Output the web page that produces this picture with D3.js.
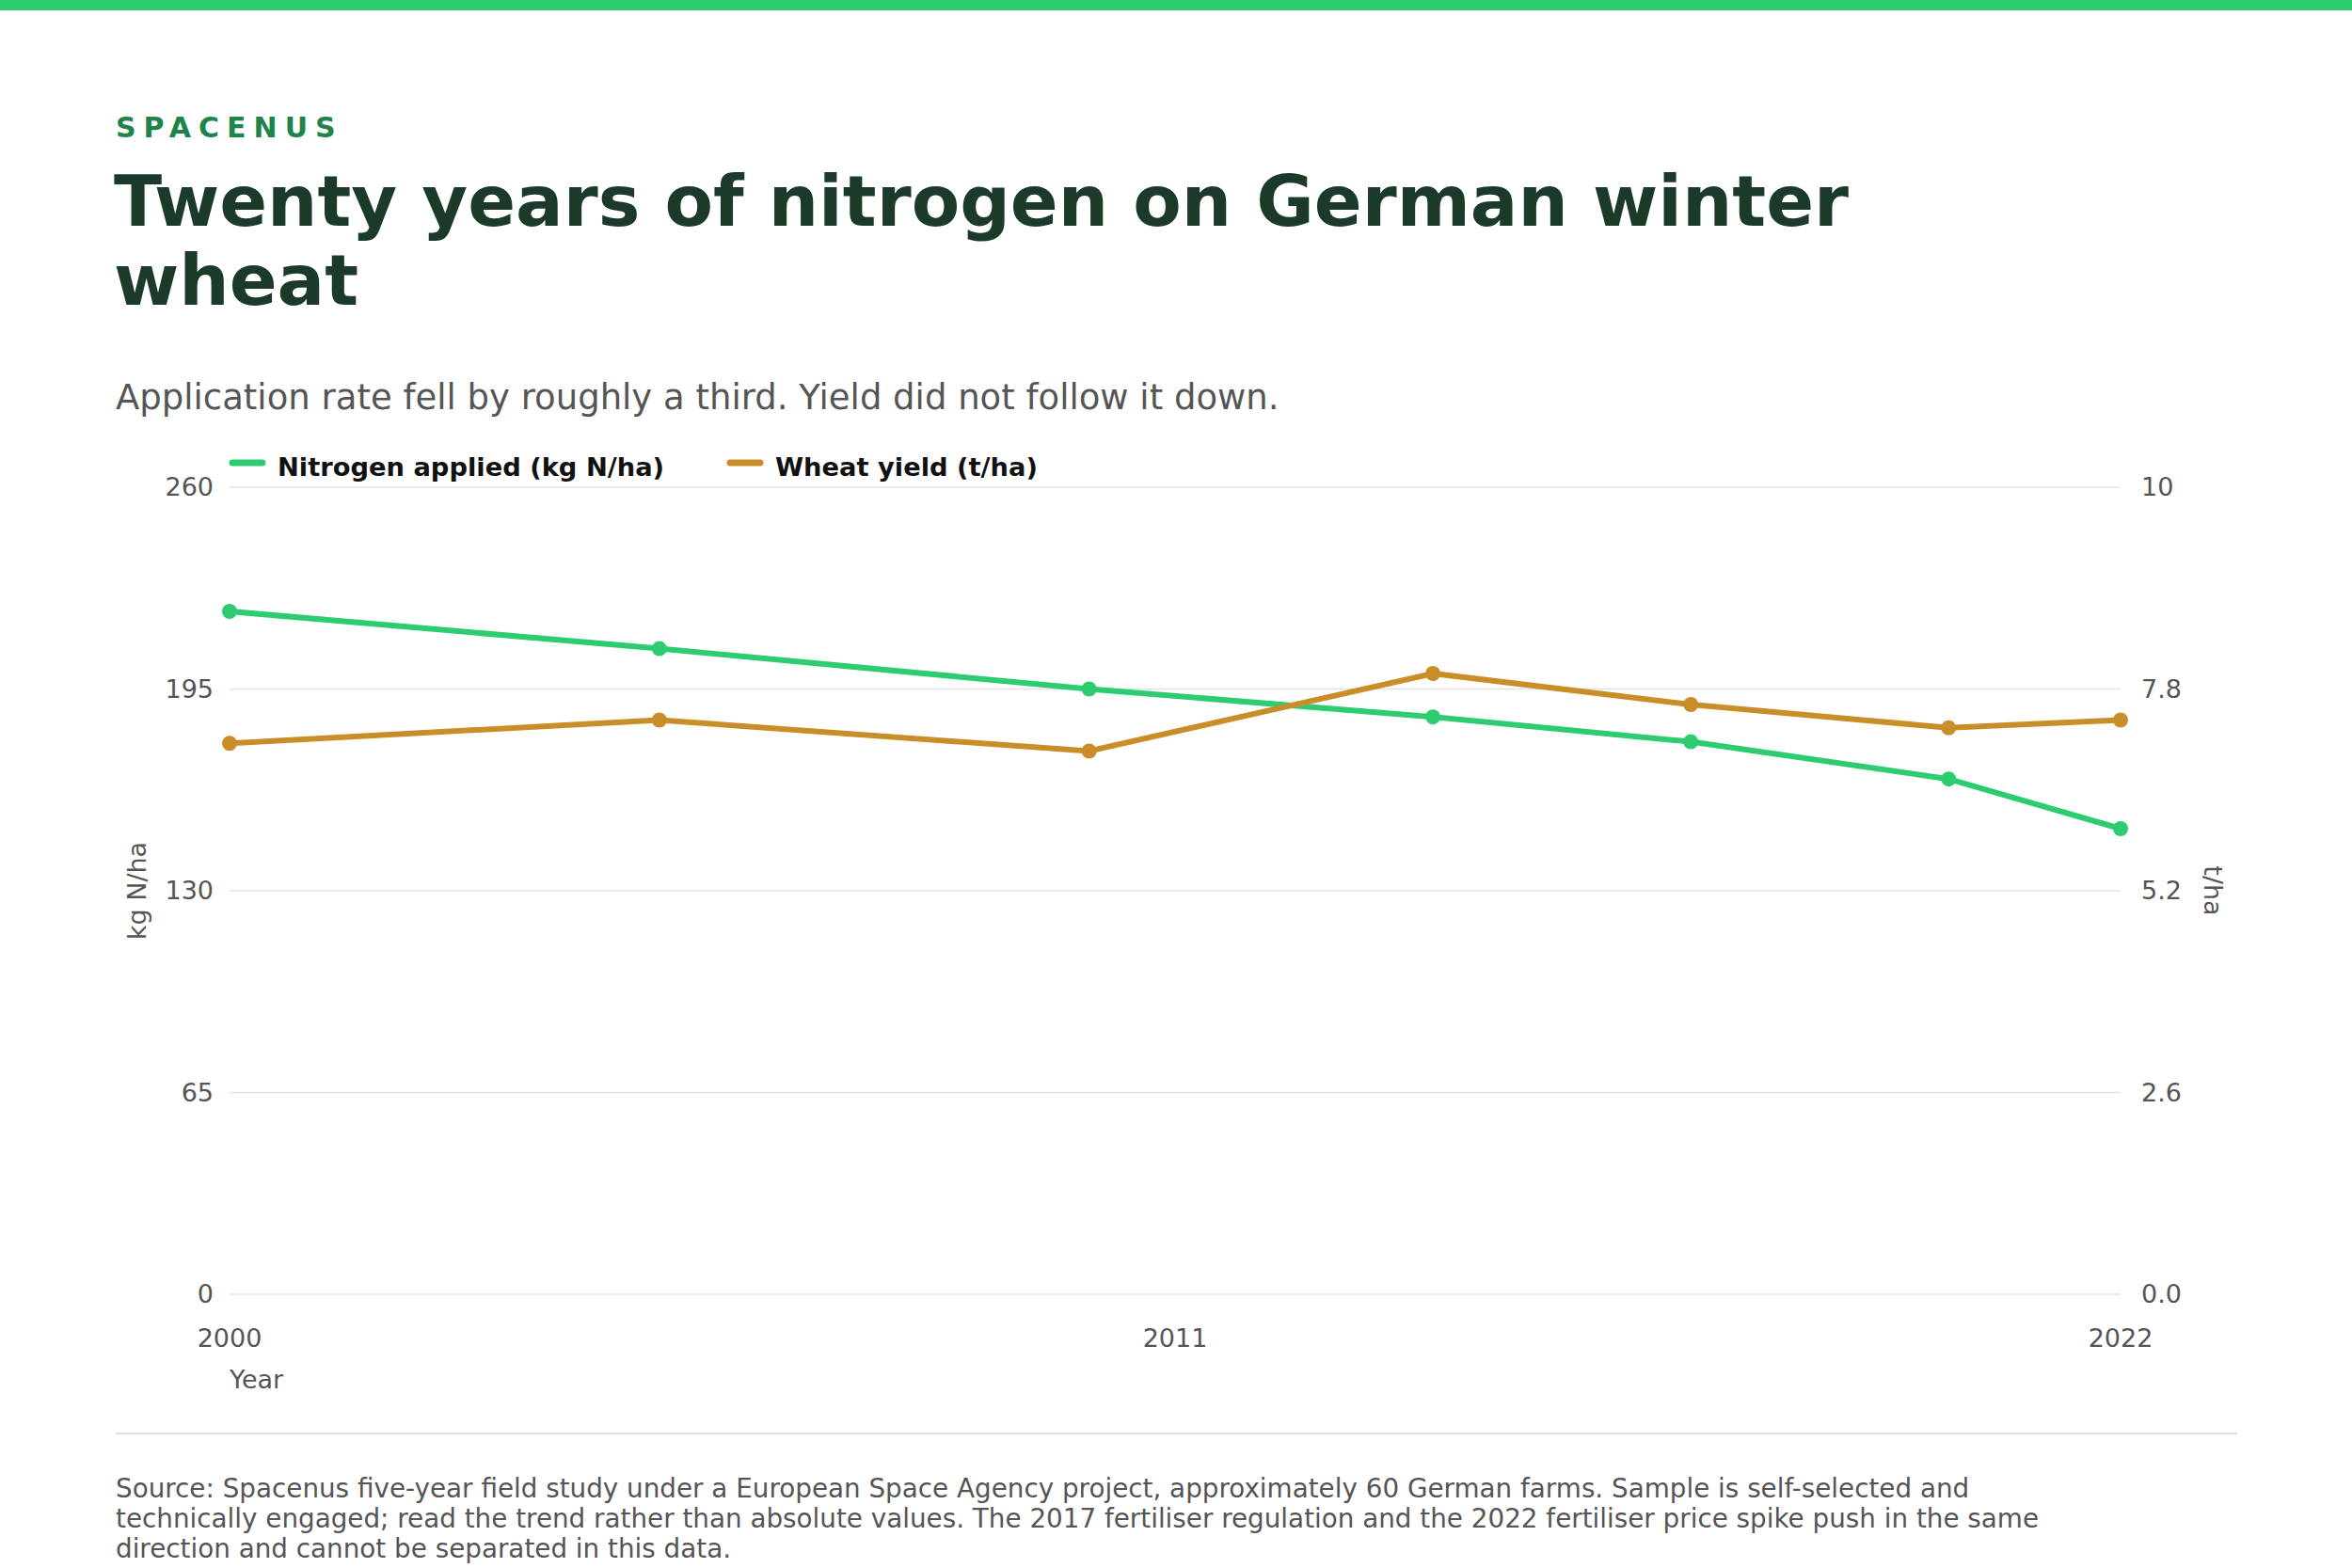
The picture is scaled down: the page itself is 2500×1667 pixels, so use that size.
<!DOCTYPE html>
<html><head><meta charset="utf-8">
<script src="https://cdn.jsdelivr.net/npm/d3@7"></script>
<style>body{margin:0;background:#fff;font-family:"DejaVu Sans",sans-serif}</style>
</head><body>
<svg id="chart" width="2500" height="1667"></svg>
<script>
// Data
const years = [2000, 2005, 2010, 2014, 2017, 2020, 2022];
const nitrogen = [220, 208, 195, 186, 178, 166, 150];
const yieldT = [7.1, 7.4, 7.0, 8.0, 7.6, 7.3, 7.4];
const leftTicks = [0, 65, 130, 195, 260];
const rightTicks = [0, 2.6, 5.2, 7.8, 10.4];
const rightLabels = ["0.0", "2.6", "5.2", "7.8", "10"];
const xTicks = [2000, 2011, 2022];

const svg = d3.select("#chart");
const green = "#2ecc71", gold = "#c98e2a";
const plot = {left: 244, right: 2254, top: 518, bottom: 1376};

svg.append("rect").attr("width", 2500).attr("height", 11).attr("fill", green);
svg.append("text").attr("x", 123).attr("y", 146).text("SPACENUS")
  .attr("fill", "#1e8449").attr("font-size", 30).attr("font-weight", "bold").attr("letter-spacing", 8);
["Twenty years of nitrogen on German winter", "wheat"].forEach((t, i) =>
  svg.append("text").attr("x", 121).attr("y", 240 + i * 84).text(t)
    .attr("fill", "#1b3a2a").attr("font-size", 75).attr("font-weight", "bold"));
svg.append("text").attr("x", 123).attr("y", 435).attr("font-size", 37).attr("fill", "#555")
  .text("Application rate fell by roughly a third. Yield did not follow it down.");

const x = d3.scaleLinear().domain([2000, 2022]).range([plot.left, plot.right]);
const yL = d3.scaleLinear().domain([0, 260]).range([plot.bottom, plot.top]);
const yR = d3.scaleLinear().domain([0, 10.4]).range([plot.bottom, plot.top]);

// grid
svg.append("g").selectAll("line").data(leftTicks).join("line")
  .attr("x1", plot.left).attr("x2", plot.right).attr("y1", d => yL(d)).attr("y2", d => yL(d))
  .attr("stroke", "#e3e3e3").attr("stroke-width", 1.5);

const tickStyle = s => s.attr("font-size", 27).attr("fill", "#555");
svg.append("g").selectAll("text").data(leftTicks).join("text")
  .attr("x", plot.left - 17).attr("y", d => yL(d) + 9).attr("text-anchor", "end").text(d => d).call(tickStyle);
svg.append("g").selectAll("text").data(rightTicks).join("text")
  .attr("x", plot.right + 22).attr("y", d => yR(d) + 9).text((d, i) => rightLabels[i]).call(tickStyle);
svg.append("g").selectAll("text").data(xTicks).join("text")
  .attr("x", d => x(d)).attr("y", 1432).attr("text-anchor", "middle").text(d => d).call(tickStyle);
svg.append("text").attr("x", 244).attr("y", 1476).text("Year").call(tickStyle);
svg.append("text").attr("transform", "translate(155,947) rotate(-90)").attr("text-anchor", "middle").text("kg N/ha").call(tickStyle);
svg.append("text").attr("transform", "translate(2343,947) rotate(90)").attr("text-anchor", "middle").text("t/ha").call(tickStyle);

function series(vals, y, color) {
  const pts = years.map((yr, i) => [x(yr), y(vals[i])]);
  svg.append("path").attr("d", d3.line()(pts)).attr("fill", "none").attr("stroke", color).attr("stroke-width", 6);
  svg.append("g").selectAll("circle").data(pts).join("circle")
    .attr("cx", d => d[0]).attr("cy", d => d[1]).attr("r", 8).attr("fill", color);
}
series(nitrogen, yL, green);
series(yieldT, yR, gold);

// legend
[["Nitrogen applied (kg N/ha)", green, 247], ["Wheat yield (t/ha)", gold, 776]].forEach(([t, c, lx]) => {
  svg.append("line").attr("x1", lx).attr("x2", lx + 32).attr("y1", 492).attr("y2", 492)
    .attr("stroke", c).attr("stroke-width", 7).attr("stroke-linecap", "round");
  svg.append("text").attr("x", lx + 48).attr("y", 506).text(t)
    .attr("font-size", 27.3).attr("font-weight", "bold").attr("fill", "#111");
});

svg.append("line").attr("x1", 123).attr("x2", 2378).attr("y1", 1524).attr("y2", 1524).attr("stroke", "#ddd").attr("stroke-width", 2);
["Source: Spacenus five-year field study under a European Space Agency project, approximately 60 German farms. Sample is self-selected and",
 "technically engaged; read the trend rather than absolute values. The 2017 fertiliser regulation and the 2022 fertiliser price spike push in the same",
 "direction and cannot be separated in this data."].forEach((t, i) =>
  svg.append("text").attr("x", 123).attr("y", 1592 + i * 32).text(t).attr("font-size", 27.8).attr("fill", "#555"));
</script>
</body></html>
